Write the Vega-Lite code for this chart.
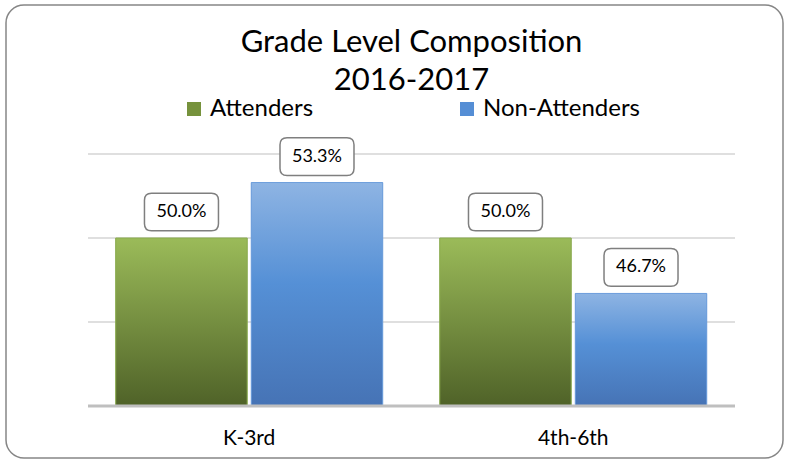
{
  "$schema": "https://vega.github.io/schema/vega-lite/v6.json",
  "width": 777,
  "height": 453,
  "autosize": {"type": "none"},
  "padding": {"left": 6, "top": 5, "right": 7, "bottom": 3},
  "background": "white",
  "config": {
    "view": {"stroke": "#868686", "strokeWidth": 1.5, "cornerRadius": 18, "fill": "white"},
    "font": "Lato"
  },
  "title": {
    "text": ["Grade Level Composition", "2016-2017"],
    "fontSize": 31,
    "font": "Lato",
    "fontWeight": "normal",
    "color": "#000000",
    "lineHeight": 38,
    "anchor": "middle",
    "frame": "group",
    "baseline": "alphabetic",
    "offset": -116,
    "dx": 17
  },
  "datasets": {
    "bars": [
      {"grade": "K-3rd", "series": "Attenders", "value": 0.5},
      {"grade": "K-3rd", "series": "Non-Attenders", "value": 0.533},
      {"grade": "4th-6th", "series": "Attenders", "value": 0.5},
      {"grade": "4th-6th", "series": "Non-Attenders", "value": 0.467}
    ],
    "grid": [{"tick": 0.45}, {"tick": 0.5}, {"tick": 0.55}],
    "base": [{"tick": 0.4}]
  },
  "resolve": {"scale": {"x": "independent"}, "axis": {"x": "independent"}},
  "layer": [
    {
      "data": {"name": "grid"},
      "mark": {"type": "rule", "color": "#d4d4d4", "strokeWidth": 1.6},
      "encoding": {
        "x": {"datum": 0, "type": "quantitative", "scale": {"domain": [-0.12674, 1.07419], "nice": false, "zero": false}, "axis": null},
        "x2": {"datum": 1},
        "y": {"field": "tick", "type": "quantitative", "scale": {"domain": [0.36905, 0.63869], "nice": false, "zero": false}, "axis": null}
      }
    },
    {
      "layer": [
        {
          "data": {"name": "bars"},
          "mark": {"type": "bar"},
          "encoding": {
            "x": {
              "field": "grade", "type": "nominal",
              "scale": {"domain": ["K-3rd", "4th-6th"], "paddingInner": 0.176, "paddingOuter": 0.287, "align": 0.59},
              "axis": {"title": null, "orient": "bottom", "offset": -52, "domain": false, "ticks": false, "labelPadding": 21, "labelFontSize": 21, "labelFont": "Lato", "labelColor": "#000000", "labelAngle": 0, "grid": false}
            },
            "xOffset": {"field": "series", "type": "nominal", "scale": {"domain": ["Attenders", "Non-Attenders"], "paddingInner": 0.03, "paddingOuter": 0}},
            "y": {"field": "value", "type": "quantitative"},
            "y2": {"datum": 0.4},
            "color": {
              "field": "series", "type": "nominal",
              "scale": {"domain": ["Attenders", "Non-Attenders"], "range": ["#76923c", "#558ed5"]},
              "legend": {
                "title": null, "orient": "none", "legendX": 176, "legendY": 92, "direction": "horizontal",
                "symbolType": "square", "symbolSize": 196, "symbolStrokeWidth": 0, "labelFontSize": 24, "labelFont": "Lato",
                "labelColor": "#000000", "columnPadding": 141, "labelOffset": 4, "padding": 0
              }
            }
          }
        },
        {
          "data": {"name": "bars"},
          "transform": [{"filter": "datum.series === 'Attenders'"}],
          "mark": {"type": "bar", "stroke": "#8aab4e", "strokeWidth": 1,
            "color": {"gradient": "linear", "x1": 0, "y1": 0, "x2": 0, "y2": 1,
              "stops": [{"offset": 0, "color": "#9bbb59"}, {"offset": 1, "color": "#4f6228"}]}},
          "encoding": {
            "x": {"field": "grade", "type": "nominal"},
            "xOffset": {"field": "series", "type": "nominal"},
            "y": {"field": "value", "type": "quantitative"},
            "y2": {"datum": 0.4}
          }
        },
        {
          "data": {"name": "bars"},
          "transform": [{"filter": "datum.series === 'Non-Attenders'"}],
          "mark": {"type": "bar", "stroke": "#6f9fdc", "strokeWidth": 1,
            "color": {"gradient": "linear", "x1": 0, "y1": 0, "x2": 0, "y2": 1,
              "stops": [{"offset": 0, "color": "#8eb4e3"}, {"offset": 0.45, "color": "#5590d6"}, {"offset": 1, "color": "#4673b5"}]}},
          "encoding": {
            "x": {"field": "grade", "type": "nominal"},
            "xOffset": {"field": "series", "type": "nominal"},
            "y": {"field": "value", "type": "quantitative"},
            "y2": {"datum": 0.4}
          }
        },
        {
          "data": {"name": "bars"},
          "mark": {"type": "point", "shape": "M -0.81,-0.51 L 0.81,-0.51 Q 1,-0.51 1,-0.32 L 1,0.32 Q 1,0.51 0.81,0.51 L -0.81,0.51 Q -1,0.51 -1,0.32 L -1,-0.32 Q -1,-0.51 -0.81,-0.51 Z",
            "size": 5476, "filled": true, "fill": "white", "stroke": "#7f7f7f", "strokeWidth": 1.5, "opacity": 1, "yOffset": -26},
          "encoding": {
            "x": {"field": "grade", "type": "nominal"},
            "xOffset": {"field": "series", "type": "nominal"},
            "y": {"field": "value", "type": "quantitative"}
          }
        },
        {
          "data": {"name": "bars"},
          "mark": {"type": "text", "fontSize": 18, "font": "Lato", "color": "#000000", "baseline": "middle", "align": "center", "yOffset": -26},
          "encoding": {
            "x": {"field": "grade", "type": "nominal"},
            "xOffset": {"field": "series", "type": "nominal"},
            "y": {"field": "value", "type": "quantitative"},
            "text": {"field": "value", "type": "quantitative", "format": ".1%"}
          }
        }
      ]
    },
    {
      "data": {"name": "base"},
      "mark": {"type": "rule", "color": "#bfbfbf", "strokeWidth": 3},
      "encoding": {
        "x": {"datum": 0, "type": "quantitative", "scale": {"domain": [-0.12674, 1.07419], "nice": false, "zero": false}, "axis": null},
        "x2": {"datum": 1},
        "y": {"field": "tick", "type": "quantitative"}
      }
    }
  ]
}
